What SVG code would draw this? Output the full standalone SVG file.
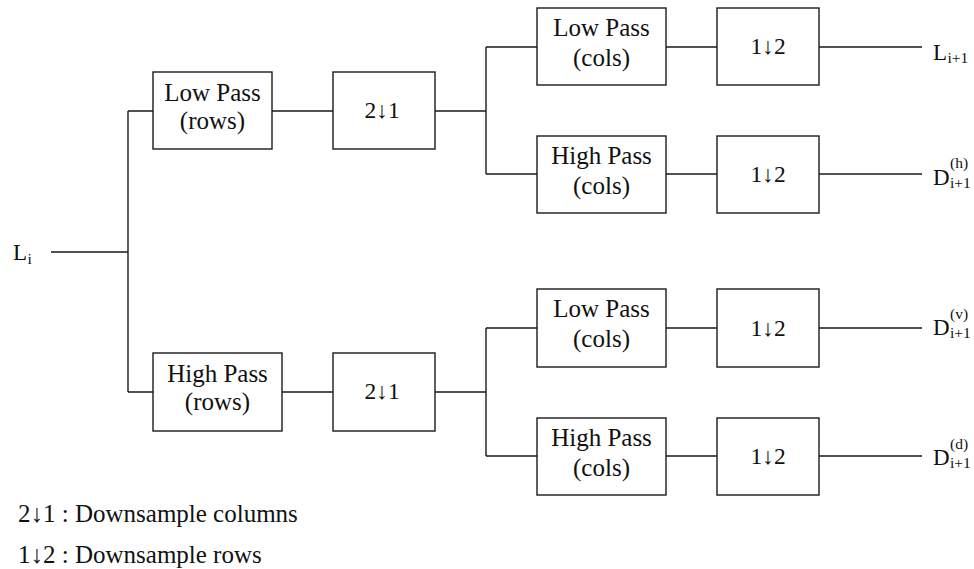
<svg xmlns="http://www.w3.org/2000/svg" width="974" height="569" viewBox="0 0 974 569">
<style>
.box{fill:#fff;stroke:#1a1a1a;stroke-width:1.4}
.ln{fill:none;stroke:#1a1a1a;stroke-width:1.4}
text{font-family:"Liberation Serif","Times New Roman",serif;fill:#111}
.t{font-size:25px;text-anchor:middle}
.ds{font-size:23.5px;text-anchor:middle}
.lab{font-size:25px}
.io{font-size:23px}
.sm{font-size:15.5px}
</style>
<rect width="974" height="569" fill="#fff"/>
<g id="connectors">
<path class="ln" d="M51 252H128M128 111V392M128 111H153M128 392H153"/>
<path class="ln" d="M272 111H333M282 392H333"/>
<path class="ln" d="M435 111H486M486 47V174M486 47H537M486 174H537"/>
<path class="ln" d="M435 392H486M486 328V456M486 328H537M486 456H537"/>
<path class="ln" d="M666 47H717M819 47H922M666 174H717M819 174H922"/>
<path class="ln" d="M666 328H717M819 328H922M666 456H717M819 456H922"/>
</g>
<g id="lp_rows"><rect class="box" x="153" y="72" width="119" height="77"/><text class="t" x="212.5" y="101">Low Pass</text><text class="t" x="212.5" y="129">(rows)</text></g>
<g id="hp_rows"><rect class="box" x="153" y="353" width="129" height="78"/><text class="t" x="217.5" y="382">High Pass</text><text class="t" x="217.5" y="410">(rows)</text></g>
<g id="ds_top"><rect class="box" x="333" y="72" width="102" height="77"/><text class="ds" x="382" y="118">2↓1</text></g>
<g id="ds_bot"><rect class="box" x="333" y="353" width="102" height="78"/><text class="ds" x="382" y="399">2↓1</text></g>
<g id="lp_cols1"><rect class="box" x="537" y="8" width="129" height="77"/><text class="t" x="601.5" y="36">Low Pass</text><text class="t" x="601.5" y="66">(cols)</text></g>
<g id="hp_cols1"><rect class="box" x="537" y="136" width="129" height="77"/><text class="t" x="601.5" y="164">High Pass</text><text class="t" x="601.5" y="194">(cols)</text></g>
<g id="lp_cols2"><rect class="box" x="537" y="289" width="129" height="78"/><text class="t" x="601.5" y="317">Low Pass</text><text class="t" x="601.5" y="347">(cols)</text></g>
<g id="hp_cols2"><rect class="box" x="537" y="418" width="129" height="77"/><text class="t" x="601.5" y="446">High Pass</text><text class="t" x="601.5" y="476">(cols)</text></g>
<g id="us1"><rect class="box" x="717" y="8" width="102" height="77"/><text class="ds" x="768" y="54">1↓2</text></g>
<g id="us2"><rect class="box" x="717" y="136" width="102" height="77"/><text class="ds" x="768" y="182">1↓2</text></g>
<g id="us3"><rect class="box" x="717" y="289" width="102" height="78"/><text class="ds" x="768" y="336">1↓2</text></g>
<g id="us4"><rect class="box" x="717" y="418" width="102" height="77"/><text class="ds" x="768" y="464">1↓2</text></g>
<g id="in_L"><text class="io" x="13" y="260">L</text><text class="sm" x="27.5" y="264">i</text></g>
<g id="out_L"><text class="io" x="933" y="60">L</text><text class="sm" x="947.5" y="63">i+1</text></g>
<g id="out_Dh"><text class="io" x="933" y="184.5">D</text><text class="sm" x="950" y="168">(h)</text><text class="sm" x="950" y="187.5">i+1</text></g>
<g id="out_Dv"><text class="io" x="933" y="335">D</text><text class="sm" x="950" y="318.5">(v)</text><text class="sm" x="950" y="338">i+1</text></g>
<g id="out_Dd"><text class="io" x="933" y="465">D</text><text class="sm" x="950" y="448.5">(d)</text><text class="sm" x="950" y="468">i+1</text></g>
<g id="legend"><text class="lab" x="18" y="522">2↓1 : Downsample columns</text><text class="lab" x="18" y="563">1↓2 : Downsample rows</text></g>
</svg>
